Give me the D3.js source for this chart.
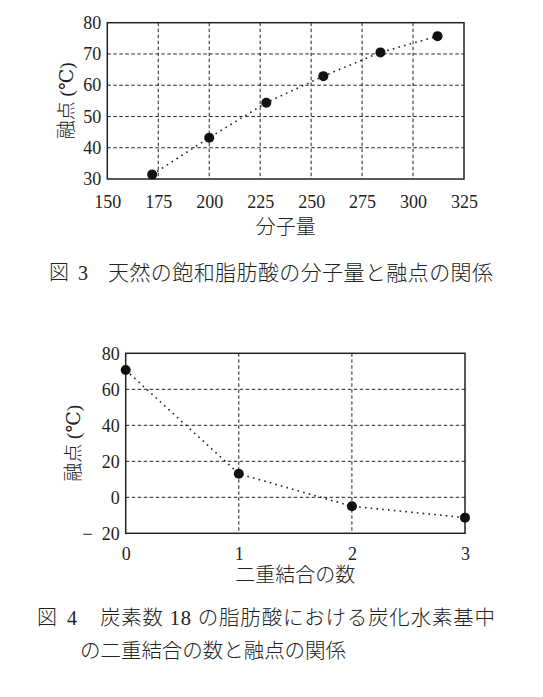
<!DOCTYPE html>
<html><head><meta charset="utf-8">
<script src="https://cdn.jsdelivr.net/npm/d3@7"></script>
<style>
html,body{margin:0;padding:0;background:#fff;}
svg{display:block;}
svg text{fill:#222;font-family:"Liberation Serif","DejaVu Serif","Noto Sans CJK JP",serif;}
svg text.cjk{font-weight:300;}
</style></head>
<body>
<svg id="c" width="543" height="697"></svg>
<script>
// ---- data ----
const molWeight = [172, 200, 228, 256, 284, 312];
const meltPoint1 = [31.4, 43.2, 54.4, 62.9, 70.5, 75.7];
const xTicks1 = [150, 175, 200, 225, 250, 275, 300, 325];
const yTicks1 = [30, 40, 50, 60, 70, 80];

const doubleBonds = [0, 1, 2, 3];
const meltPoint2 = [70.7, 13.1, -5, -11.3];
const xTicks2 = [0, 1, 2, 3];
const yTicks2 = [-20, 0, 20, 40, 60, 80];

const FONT = '"Liberation Serif", "DejaVu Serif", "Noto Sans CJK JP", serif';
const svg = d3.select("#c");

function chart(o) {
  const g = svg.append("g");
  const x = d3.scaleLinear().domain(o.xDom).range([o.left, o.right]);
  const y = d3.scaleLinear().domain(o.yDom).range([o.bottom, o.top]);
  // grid
  g.selectAll(".gx").data(o.xTicks.slice(1, -1)).join("line")
    .attr("x1", d => x(d)).attr("x2", d => x(d))
    .attr("y1", o.top).attr("y2", o.bottom)
    .attr("stroke", "#222").attr("stroke-width", 1).attr("stroke-dasharray", "3.5,2.5");
  g.selectAll(".gy").data(o.yTicks.slice(1, -1)).join("line")
    .attr("y1", d => y(d)).attr("y2", d => y(d))
    .attr("x1", o.left).attr("x2", o.right)
    .attr("stroke", "#222").attr("stroke-width", 1).attr("stroke-dasharray", "3.5,2.5");
  // frame
  g.append("rect").attr("x", o.left).attr("y", o.top)
    .attr("width", o.right - o.left).attr("height", o.bottom - o.top)
    .attr("fill", "none").attr("stroke", "#222").attr("stroke-width", 1.5);
  // axes (labels only)
  const ax = g.append("g").attr("transform", `translate(0,${o.bottom})`)
    .call(d3.axisBottom(x).tickValues(o.xTicks).tickSize(0).tickPadding(o.xPad).tickFormat(o.xFmt || (d => d)));
  const ay = g.append("g").attr("transform", `translate(${o.left},0)`)
    .call(d3.axisLeft(y).tickValues(o.yTicks).tickSize(0).tickPadding(o.yPad).tickFormat(o.yFmt || (d => d)));
  [ax, ay].forEach(a => {
    a.attr("font-family", null).attr("font-size", null);
    a.select(".domain").remove();
    a.selectAll("text").style("font-family", FONT).style("font-size", "18px").style("fill", "#222");
  });
  // line
  const pts = o.xs.map((d, i) => [d, o.ys[i]]);
  g.append("path").datum(pts)
    .attr("d", d3.line().x(d => x(d[0])).y(d => y(d[1])))
    .attr("fill", "none").attr("stroke", "#222").attr("stroke-width", 1.6)
    .attr("stroke-dasharray", "1.6,4.2");
  g.selectAll(".pt").data(pts).join("circle")
    .attr("cx", d => x(d[0])).attr("cy", d => y(d[1])).attr("r", 5)
    .attr("fill", "#111");
  // axis titles
  g.append("text").attr("class", "cjk").attr("x", (o.left + o.right) / 2).attr("y", o.xTitleY)
    .attr("text-anchor", "middle").style("font-size", "20px")
    .text(o.xTitle);
  g.append("text").attr("class", "cjk")
    .attr("transform", `translate(${o.yTitleX},${(o.top + o.bottom) / 2}) rotate(-90)`)
    .attr("text-anchor", "middle").style("font-size", "19px")
    .text(o.yTitle);
}

chart({
  left: 107.3, right: 464, top: 22.7, bottom: 179,
  xDom: [150, 325], yDom: [30, 80], xTicks: xTicks1, yTicks: yTicks1,
  xs: molWeight, ys: meltPoint1, xPad: 16, yPad: 6,
  xTitle: "分子量", xTitleY: 234, yTitle: "融点 (℃)", yTitleX: 72.5
});

chart({
  left: 125.7, right: 465, top: 353.3, bottom: 533.3,
  xDom: [0, 3], yDom: [-20, 80], xTicks: xTicks2, yTicks: yTicks2,
  xs: doubleBonds, ys: meltPoint2, xPad: 14, yPad: 6,
  yFmt: d => d < 0 ? "\u2212\u2002" + Math.abs(d) : d,
  xTitle: "二重結合の数", xTitleY: 582, yTitle: "融点 (℃)", yTitleX: 79.5
});

// captions
function cap(x, y, t, size, len) {
  const e = svg.append("text").attr("class", "cjk").attr("x", x).attr("y", y)
    .style("font-size", size + "px").text(t);
  if (len) e.attr("textLength", len).attr("lengthAdjust", "spacing");
}
cap(49, 280, "図", 20);
cap(78, 280, "3", 20);
cap(108, 280, "天然の飽和脂肪酸の分子量と融点の関係", 21, 385);
cap(37, 625, "図", 20);
cap(67, 625, "4", 20);
cap(100, 625, "炭素数 18 の脂肪酸における炭化水素基中", 20.5, 395);
cap(80, 658, "の二重結合の数と融点の関係", 20.5, 266);
</script>
</body></html>
